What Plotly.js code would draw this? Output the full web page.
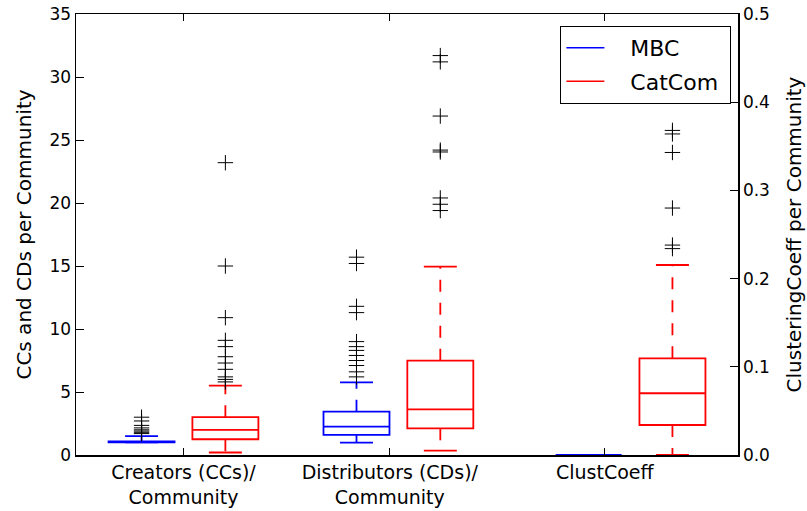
<!DOCTYPE html>
<html>
<head>
<meta charset="utf-8">
<script src="https://cdn.plot.ly/plotly-3.0.1.min.js"></script>
<style>html,body{margin:0;padding:0;background:#fff;}#chart{width:807px;height:511px;}</style>
</head>
<body>
<div id="chart"></div>
<script>
// ---- data ----
const categories = ['Creators (CCs)/<br>Community', 'Distributors (CDs)/<br>Community', 'ClustCoeff'];
const seriesNames = ['MBC', 'CatCom'];

const mbcLow    = [1.0, 0.98, 0.0];
const mbcQ1     = [1.0, 1.59, 0.0];
const mbcMedian = [1.0, 2.25, 0.0];
const mbcQ3     = [1.08, 3.44, 0.0];
const mbcHigh   = [1.5, 5.77, 0.0];
const mbcOutliers = [
  [3.0, 2.7, 2.35, 2.15, 2.0, 1.9, 1.8, 1.7],
  [15.7, 15.2, 11.8, 11.3, 9.0, 8.6, 8.3, 7.9, 7.5, 7.1, 6.6, 6.2],
  []
];

const catLow    = [0.2, 0.34, 0.0];
const catQ1     = [1.25, 2.12, 0.034];
const catMedian = [2.0, 3.62, 0.070];
const catQ3     = [3.0, 7.49, 0.1096];
const catHigh   = [5.5, 14.95, 0.2154];
const catOutliers = [
  [23.2, 15.0, 10.9, 9.1, 8.6, 7.8, 7.3, 6.8, 6.2, 6.0, 5.8],
  [31.7, 31.2, 26.9, 24.2, 24.05, 20.4, 19.9, 19.4],
  [0.368, 0.364, 0.343, 0.280, 0.238, 0.234]
];

// ---- layout constants (positions / styles) ----
const groupPos = [1, 2, 3.08];
const tickPos = [1, 1.96, 2.96];
const offset = 0.195;
const boxW = 0.307;
const capW = boxW / 2;
const colors = ['#0000ff', '#ff0000'];
const axisOf = [ 'y', 'y', 'y2' ];

const series = [
  {low: mbcLow, q1: mbcQ1, med: mbcMedian, q3: mbcQ3, high: mbcHigh, out: mbcOutliers, sign: -1},
  {low: catLow, q1: catQ1, med: catMedian, q3: catQ3, high: catHigh, out: catOutliers, sign: 1}
];

const traces = [];
series.forEach((s, si) => {
  ['y', 'y2'].forEach(ax => {
    const idx = [0, 1, 2].filter(g => axisOf[g] === ax);
    const xs = idx.map(g => groupPos[g] + s.sign * offset);
    // box body + median (whiskers drawn separately)
    traces.push({
      type: 'box', yaxis: ax, x: xs,
      q1: idx.map(g => s.q1[g]), median: idx.map(g => s.med[g]), q3: idx.map(g => s.q3[g]),
      lowerfence: idx.map(g => s.q1[g]), upperfence: idx.map(g => s.q3[g]),
      width: boxW, whiskerwidth: 0, boxpoints: false,
      line: {color: colors[si], width: 1.8}, fillcolor: 'rgba(0,0,0,0)',
      showlegend: false, hoverinfo: 'skip'
    });
    // dashed whiskers
    const wx = [], wy = [];
    idx.forEach((g, k) => {
      wx.push(xs[k], xs[k], null, xs[k], xs[k], null);
      wy.push(s.q3[g], s.high[g], null, s.q1[g], s.low[g], null);
    });
    traces.push({type: 'scatter', mode: 'lines', yaxis: ax, x: wx, y: wy,
      line: {color: colors[si], width: 1.8, dash: '12px,11px'}, showlegend: false, hoverinfo: 'skip'});
    // caps
    const cx = [], cy = [];
    idx.forEach((g, k) => {
      cx.push(xs[k] - capW / 2, xs[k] + capW / 2, null, xs[k] - capW / 2, xs[k] + capW / 2, null);
      cy.push(s.high[g], s.high[g], null, s.low[g], s.low[g], null);
    });
    traces.push({type: 'scatter', mode: 'lines', yaxis: ax, x: cx, y: cy,
      line: {color: colors[si], width: 1.8}, showlegend: false, hoverinfo: 'skip'});
    // outliers
    const ox = [], oy = [];
    idx.forEach((g, k) => { s.out[g].forEach(v => { ox.push(xs[k]); oy.push(v); }); });
    traces.push({type: 'scatter', mode: 'markers', yaxis: ax, x: ox, y: oy,
      marker: {symbol: 'cross-thin', size: 11, color: '#000', line: {width: 1, color: '#000'}},
      showlegend: false, hoverinfo: 'skip', cliponaxis: false});
  });
});
// legend entries
seriesNames.forEach((n, si) => {
  traces.push({type: 'scatter', mode: 'lines', x: [null], y: [null], name: '\u00a0\u00a0\u00a0' + n + '\u00a0',
    legendgroup: n, line: {color: colors[si], width: 1.5}});
});

const font = 'DejaVu Sans, Liberation Sans, sans-serif';
const layout = {
  width: 807, height: 511,
  margin: {l: 76, r: 69, t: 14, b: 56, pad: 0},
  paper_bgcolor: '#fff', plot_bgcolor: '#fff',
  font: {family: font, color: '#000', size: 17},
  showlegend: true,
  legend: {x: 0.99, xanchor: 'right', y: 0.973, yanchor: 'top',
    bgcolor: '#fff', bordercolor: '#000', borderwidth: 1,
    font: {family: font, size: 22, color: '#000'}, tracegroupgap: 2, itemwidth: 38},
  xaxis: {range: [0.5, 3.58], tickmode: 'array', tickvals: tickPos, ticktext: categories,
    ticks: 'inside', ticklen: 7, tickwidth: 1, tickcolor: '#000',
    showline: true, linecolor: '#000', linewidth: 1.5, mirror: 'ticks',
    showgrid: false, zeroline: false, tickfont: {size: 19}},
  yaxis: {range: [0, 35], dtick: 5, ticks: 'inside', ticklen: 8, tickwidth: 1, tickcolor: '#000',
    showline: true, linecolor: '#000', linewidth: 1.5, mirror: true,
    showgrid: false, zeroline: false, tickfont: {size: 17},
    title: {text: 'CCs and CDs per Community', font: {size: 20}, standoff: 12}},
  yaxis2: {overlaying: 'y', side: 'right', range: [0, 0.5], dtick: 0.1, tickformat: '.1f',
    ticks: 'inside', ticklen: 8, tickwidth: 1, tickcolor: '#000',
    showline: true, linecolor: '#000', linewidth: 1.5,
    showgrid: false, zeroline: false, tickfont: {size: 17},
    title: {text: 'ClusteringCoeff per Community', font: {size: 20}, standoff: 18}}
};

Plotly.newPlot('chart', traces, layout, {staticPlot: true, displayModeBar: false});
</script>
</body>
</html>
